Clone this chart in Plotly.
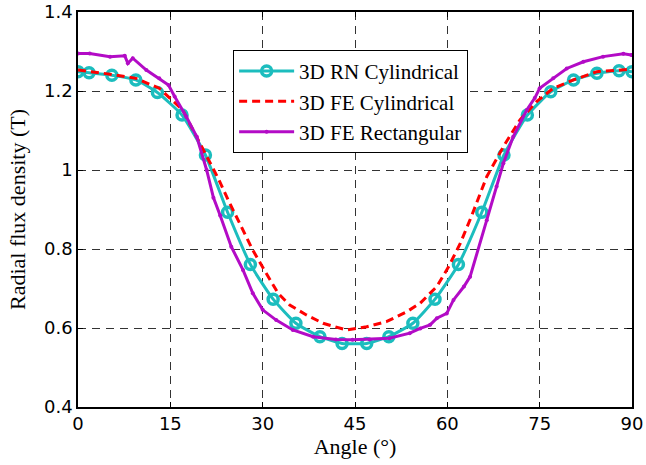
import plotly.graph_objects as go

# ---------------- data ----------------
rn_angle = [0, 1.8, 5.5, 9.4, 12.9, 16.9, 20.7, 24.3, 28.0, 31.7, 35.4, 39.3, 42.9,
            46.9, 50.5, 54.4, 58.0, 61.8, 65.6, 69.2, 73.0, 76.8, 80.5, 84.3, 87.9, 90]
rn_b = [1.249, 1.246, 1.240, 1.228, 1.196, 1.139, 1.038, 0.893, 0.761, 0.673, 0.612, 0.578, 0.561,
        0.561, 0.578, 0.612, 0.673, 0.761, 0.893, 1.038, 1.139, 1.198, 1.228, 1.245, 1.251, 1.249]

fe_cyl_angle = [0, 5.5, 9.4, 13.2, 17.0, 20.3, 22.9, 24.4, 26.8, 28.4, 30.6, 32.5, 34.4, 37.1,
                39.8, 43.6, 46.9, 50.1, 53.4, 55.6, 58.3, 60.2, 62.1, 63.9, 66.4, 69.1, 71.8,
                74.5, 77.2, 80.5, 84.3, 89.7, 90]
fe_cyl_b = [1.253, 1.242, 1.232, 1.207, 1.152, 1.051, 0.975, 0.924, 0.848, 0.797, 0.738, 0.688,
            0.658, 0.633, 0.612, 0.595, 0.603, 0.616, 0.641, 0.663, 0.705, 0.755, 0.814, 0.882,
            0.983, 1.059, 1.127, 1.173, 1.207, 1.228, 1.249, 1.255, 1.255]

fe_rect_angle = [0, 1.9, 5.2, 7.6, 8.1, 8.9, 11.1, 13.2, 14.7, 15.7, 17.6, 19.3, 20.9, 22.0,
                 23.1, 24.9, 26.8, 28.4, 30.0, 32.2, 34.9, 38.2, 41.9, 44.6, 47.4, 50.6, 53.9,
                 55.6, 57.2, 58.3, 59.9, 61.0, 62.7, 63.7, 66.4, 68.0, 69.1, 70.7, 72.9, 74.2,
                 75.0, 77.2, 79.4, 82.1, 85.3, 88.6, 89.9]
fe_rect_b = [1.295, 1.295, 1.287, 1.289, 1.270, 1.283, 1.253, 1.232, 1.215, 1.186, 1.135, 1.084,
             1.000, 0.930, 0.885, 0.806, 0.747, 0.688, 0.646, 0.620, 0.595, 0.578, 0.571, 0.570,
             0.571, 0.574, 0.587, 0.599, 0.608, 0.625, 0.637, 0.671, 0.705, 0.730, 0.873, 0.958,
             1.017, 1.084, 1.152, 1.182, 1.207, 1.232, 1.257, 1.274, 1.287, 1.294, 1.291]

x_ticks = [0, 15, 30, 45, 60, 75, 90]
x_tick_labels = ["0", "15", "30", "45", "60", "75", "90"]
y_ticks = [0.4, 0.6, 0.8, 1.0, 1.2, 1.4]
y_tick_labels = ["0.4", "0.6", "0.8", "1", "1.2", "1.4"]

series_names = ["3D RN Cylindrical", "3D FE Cylindrical", "3D FE Rectangular"]

# ---------------- figure ----------------
CYAN = "#1CBDBE"
RED = "#FF0000"
MAG = "#B30BC6"

fig = go.Figure()
fig.add_trace(go.Scatter(
    x=rn_angle, y=rn_b, name=series_names[0], mode="lines+markers",
    line=dict(color=CYAN, width=3, shape="spline", smoothing=0.5),
    marker=dict(symbol="circle-open", size=10, color=CYAN, line=dict(width=3.5, color=CYAN)),
))
fig.add_trace(go.Scatter(
    x=fe_cyl_angle, y=fe_cyl_b, name=series_names[1], mode="lines",
    line=dict(color=RED, width=3, dash="8px,5px"),
))
fig.add_trace(go.Scatter(
    x=fe_rect_angle, y=fe_rect_b, name=series_names[2], mode="lines+markers",
    line=dict(color=MAG, width=3),
    marker=dict(symbol="circle", size=4, color=MAG),
))

axis_common = dict(
    showline=True, linecolor="black", linewidth=1.5, mirror="ticks",
    ticks="inside", ticklen=5, tickcolor="black", tickwidth=1,
    showgrid=True, gridcolor="#333333", gridwidth=1, griddash="8px,6px",
    zeroline=False, automargin=False,
    tickfont=dict(family="DejaVu Sans", size=18, color="black"),
)

fig.update_xaxes(
    range=[0, 90], tickvals=x_ticks, ticktext=x_tick_labels,
    title=dict(text="Angle (°)", font=dict(family="Liberation Serif", size=22, color="black"),
               standoff=3),
    **axis_common,
)
fig.update_yaxes(
    range=[0.4, 1.4], tickvals=y_ticks, ticktext=y_tick_labels,
    title=dict(text="Radial flux density (T)",
               font=dict(family="Liberation Serif", size=22, color="black"), standoff=12),
    **axis_common,
)

fig.update_layout(
    width=646, height=465,
    margin=dict(l=78, r=14, t=12, b=58),
    paper_bgcolor="white", plot_bgcolor="white",
    showlegend=True,
    legend=dict(
        x=0.28, y=0.904, xanchor="left", yanchor="top",
        bgcolor="white", bordercolor="black", borderwidth=1,
        font=dict(family="Liberation Serif", size=21, color="black"),
        tracegroupgap=0, itemwidth=55,
    ),
)

fig.write_html("out.html",
               config={"displayModeBar": False},
               post_script="document.body.style.margin='0px';document.body.style.overflow='hidden';")
